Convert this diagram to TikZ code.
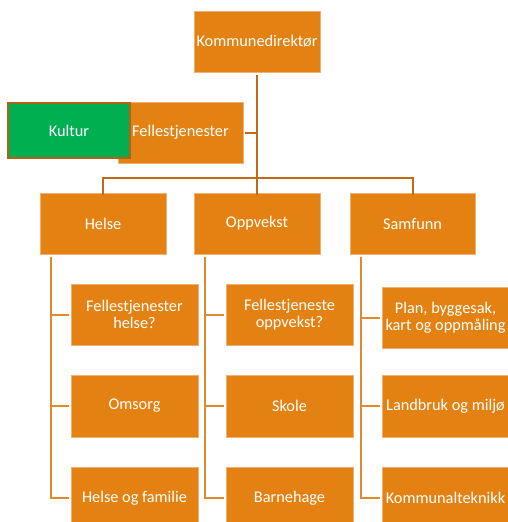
\documentclass[tikz,border=0pt]{standalone}
\usepackage{fontspec}
\setmainfont{Carlito}
\definecolor{boxfill}{HTML}{E38213}
\definecolor{boxedge}{HTML}{F0B070}
\definecolor{trunk}{HTML}{C46A16}
\definecolor{branch}{HTML}{E08A30}
\definecolor{kulturgreen}{HTML}{00B050}
\definecolor{kulturedge}{HTML}{B0621A}
\begin{document}
\begin{tikzpicture}[x=1pt,y=-1pt,
  unit/.style={draw=boxedge,line width=0.6pt,fill=boxfill,text=white,
    font=\fontsize{16.3}{17.5}\selectfont,align=center,inner sep=0pt},
  trunkline/.style={draw=trunk,line width=2pt},
  branchline/.style={draw=branch,line width=2pt}]
\useasboundingbox (0,0) rectangle (507,522);

% top level
\node[unit,minimum width=126,minimum height=61] (kd) at (257,41.5) {Kommunedirektør};
\node[unit,minimum width=125,minimum height=61] (fj) at (180.5,132.5) {Fellestjenester};
\node[draw=kulturedge,line width=2pt,fill=kulturgreen,text=white,
  font=\fontsize{16.3}{17.5}\selectfont,minimum width=122,minimum height=55,inner sep=0pt]
  (kultur) at (69,130.5) {Kultur};

% sectors
\node[unit,minimum width=126,minimum height=61] (helse) at (103,223.5) {Helse};
\node[unit,minimum width=126,minimum height=61] (oppv) at (257,223.5) {Oppvekst};
\node[unit,minimum width=125,minimum height=61] (samf) at (412.5,223.5) {Samfunn};

% units under Helse
\node[unit,minimum width=127,minimum height=61] (h1) at (134.5,314.5) {Fellestjenester\\helse?};
\node[unit,minimum width=127,minimum height=62] (h2) at (134.5,406) {Omsorg};
\node[unit,minimum width=127,minimum height=62] (h3) at (134.5,498) {Helse og familie};

% units under Oppvekst
\node[unit,minimum width=127,minimum height=61] (o1) at (289.5,314.5) {Fellestjeneste\\oppvekst?};
\node[unit,minimum width=127,minimum height=62] (o2) at (289.5,406) {Skole};
\node[unit,minimum width=127,minimum height=62] (o3) at (289.5,498) {Barnehage};

% units under Samfunn
\node[unit,minimum width=127,minimum height=61] (s1) at (445.5,317.5) {Plan, byggesak,\\kart og oppmåling};
\node[unit,minimum width=127,minimum height=62] (s2) at (445.5,406) {Landbruk og miljø};
\node[unit,minimum width=127,minimum height=62] (s3) at (445.5,498) {Kommunalteknikk};

% hierarchy lines from the top
\coordinate (bus) at (257,178);
\draw[trunkline] ([yshift=-3]kd.south) -- (bus);
\draw[trunkline] ([xshift=2]fj.east) -- (fj.east -| kd.south);
\draw[trunkline] ([yshift=-2]helse.north) |- (bus) -| ([yshift=-2]samf.north);
\draw[trunkline] (bus) -- ([yshift=-2]oppv.north);

% branch lines to the units
\foreach \p/\a/\b/\c in {helse/h1/h2/h3, oppv/o1/o2/o3, samf/s1/s2/s3}{
  \coordinate (\p-x) at ([xshift=11]\p.south west);
  \draw[branchline] ([yshift=-3]\p-x) |- ([xshift=-2]\c.west);
  \draw[branchline] (\a.west -| \p-x) -- ([xshift=-2]\a.west);
  \draw[branchline] (\b.west -| \p-x) -- ([xshift=-2]\b.west);
}
\end{tikzpicture}
\end{document}
